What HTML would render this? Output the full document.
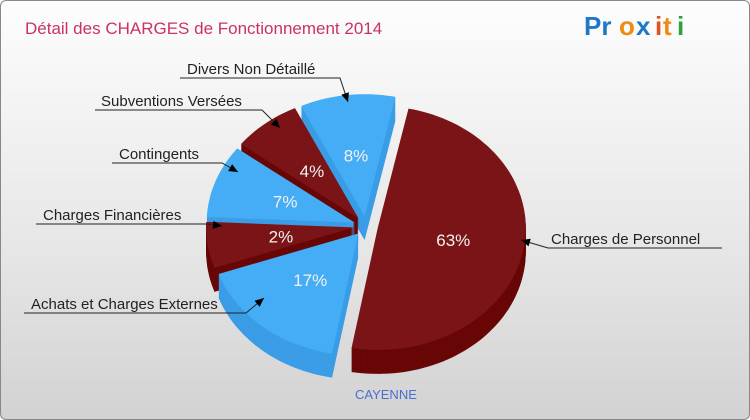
<!DOCTYPE html>
<html><head><meta charset="utf-8"><style>
body{margin:0;width:750px;height:420px;overflow:hidden;font-family:"Liberation Sans",sans-serif}
#bg{position:absolute;left:0;top:0;width:748px;height:418px;border:1px solid #888;border-radius:6px;background:linear-gradient(#fdfdfd,#e6e6e6 60%,#d2d2d2)}
</style></head><body>
<div id="bg"></div>
<svg id="c" width="750" height="420" style="position:absolute;left:0;top:0">
<text x="25" y="34" font-size="17" fill="#c8326b">Détail des CHARGES de Fonctionnement 2014</text>
<g font-size="26" font-weight="bold" font-family="'Liberation Sans',sans-serif">
<text x="584" y="35" fill="#1f77c9">Pr</text><text x="619" y="35" fill="#f08a12">o</text><text x="636" y="35" fill="#1f77c9">x</text><text x="655" y="35" fill="#e5501f">i</text><text x="663" y="35" fill="#f08a12">t</text><text x="677" y="35" fill="#2aa33a">i</text>
</g>
<g id="slices"></g>
<g id="labels" font-size="15" fill="#222"></g>
<text x="355" y="399" font-size="13" fill="#4a6fd0">CAYENNE</text>
</svg>
<script>
const categories=["Charges de Personnel","Achats et Charges Externes","Charges Financières","Contingents","Subventions Versées","Divers Non Détaillé"];
const values=[63,17,2,7,4,8];
const pctLabels=["63%","17%","2%","7%","4%","8%"];
const colorsTop=["#7b1416","#45adf6","#7b1416","#45adf6","#7b1416","#45adf6"];
const colorsSide=["#680707","#3a9de6","#680707","#3a9de6","#680707","#3a9de6"];
const cx=366,cy=226,rx=148,ry=122,depth=24,explode=12,start=12,pad=6.6;
const NS="http://www.w3.org/2000/svg";
const total=values.reduce((a,b)=>a+b+pad,0);
function pt(a,r,ox,oy){const t=a*Math.PI/180;return [ox+r*rx*Math.sin(t),oy-r*ry*Math.cos(t)];}
function slicePath(a0,a1,ox,oy){let d="M"+ox+","+oy;for(let a=a0;a<=a1;a+=2){const p=pt(a,1,ox,oy);d+=" L"+p[0].toFixed(1)+","+p[1].toFixed(1);}const p=pt(a1,1,ox,oy);d+=" L"+p[0]+","+p[1]+"Z";return d;}
const g=document.getElementById('slices');
let acc=start;const sl=[];
values.forEach((v,i)=>{const a0=acc,a1=acc+(v+pad)/total*360;acc=a1;sl.push({i,a0,a1,mid:(a0+a1)/2});});
const order=sl.slice().sort((a,b)=>-Math.cos(a.mid*Math.PI/180)+Math.cos(b.mid*Math.PI/180));
order.forEach(s=>{
 const e=pt(s.mid,explode/rx,0,0);const ox=cx+e[0],oy=cy+e[1];
 const grp=document.createElementNS(NS,'g');
 
 
 for(let d=depth;d>0;d-=1){const p=document.createElementNS(NS,'path');p.setAttribute('d',slicePath(s.a0,s.a1,ox,oy+d));p.setAttribute('fill',colorsSide[s.i]);grp.appendChild(p);}
 const p=document.createElementNS(NS,'path');p.setAttribute('d',slicePath(s.a0,s.a1,ox,oy));p.setAttribute('fill',colorsTop[s.i]);grp.appendChild(p);
 const lp=pt(s.mid,s.i==0?0.52:0.5,ox,oy);
 const t=document.createElementNS(NS,'text');t.setAttribute('x',lp[0]);t.setAttribute('y',lp[1]+6);t.setAttribute('text-anchor','middle');t.setAttribute('font-size','17');t.setAttribute('fill','#f2f2f2');t.textContent=pctLabels[s.i];
 
 
 grp.appendChild(t);g.appendChild(grp);
});
const L=[
 {t:"Divers Non Détaillé",tx:187,ty:74,x1:180,x2:340,ly:78,ax:348,ay:102,right:true},
 {t:"Subventions Versées",tx:101,ty:106,x1:95,x2:262,ly:110,ax:280,ay:128,right:true},
 {t:"Contingents",tx:119,ty:159,x1:112,x2:222,ly:163,ax:238,ay:172,right:true},
 {t:"Charges Financières",tx:43,ty:220,x1:36,x2:207,ly:224,ax:222,ay:226,right:true},
 {t:"Achats et Charges Externes",tx:31,ty:309,x1:24,x2:246,ly:313,ax:264,ay:298,right:true},
 {t:"Charges de Personnel",tx:551,ty:244,x1:548,x2:722,ly:248,ax:521,ay:240,right:false}];
const lg=document.getElementById('labels');
L.forEach(l=>{
 const gg=document.createElementNS(NS,'g');
 
 
 const sx=l.right?l.x2:l.x1;
 gg.innerHTML=`<text x="${l.tx}" y="${l.ty}">${l.t}</text><polyline points="${l.right?l.x1:l.x2},${l.ly} ${sx},${l.ly} ${l.ax},${l.ay}" fill="none" stroke="#222" stroke-width="1"/>`;
 const ang=Math.atan2(l.ay-l.ly,l.ax-sx);const s=9;
 const p1=[l.ax-s*Math.cos(ang)+4*Math.sin(ang),l.ay-s*Math.sin(ang)-4*Math.cos(ang)],p2=[l.ax-s*Math.cos(ang)-4*Math.sin(ang),l.ay-s*Math.sin(ang)+4*Math.cos(ang)];
 gg.innerHTML+=`<polygon points="${l.ax},${l.ay} ${p1} ${p2}" fill="#000"/>`;
 lg.appendChild(gg);
});
</script>
</body></html>
